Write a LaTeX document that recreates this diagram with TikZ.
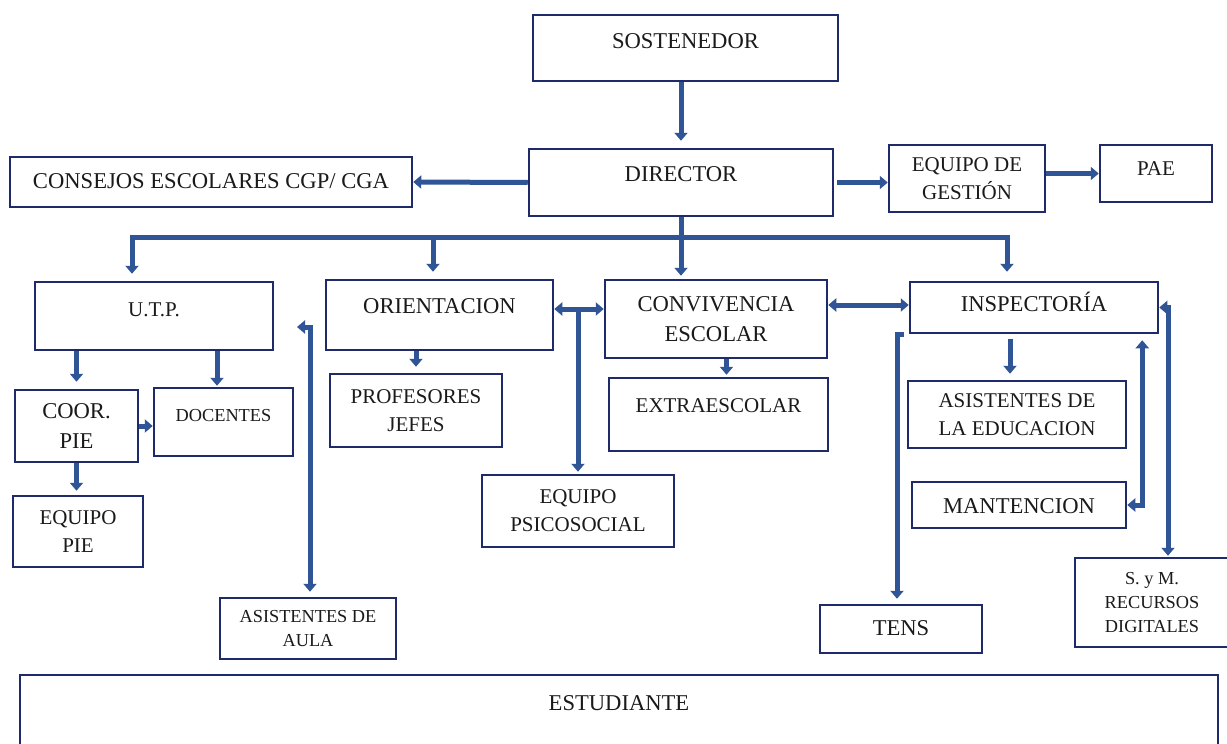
\documentclass[tikz,border=0pt]{standalone}
\usepackage{fontspec}
\setmainfont{Liberation Serif}
\usetikzlibrary{arrows.meta, positioning, calc}

\definecolor{boxline}{HTML}{1F2A6B}
\definecolor{arrowblue}{HTML}{2F5597}
\definecolor{ink}{HTML}{1A1A1A}

\newcommand{\bigtxt}{\fontsize{22.6}{30}\selectfont}
\newcommand{\medtxt}{\fontsize{21}{28}\selectfont}
\newcommand{\smltxt}{\fontsize{18.3}{24}\selectfont}

\begin{document}
\begin{tikzpicture}[x=1pt, y=-1pt,
  plain/.style={draw=arrowblue, line width=5pt},
  normal/.style={plain, -{Triangle[width=13pt,length=8pt]}},
  twoway/.style={plain, {Triangle[width=13pt,length=8pt]}-{Triangle[width=13pt,length=8pt]}},
  box/.style={
    draw=boxline,
    line width=2.5pt,
    rectangle,
    inner xsep=2pt,
    inner ysep=0pt,
    text=ink,
    font=\bigtxt
  },
  mbox/.style={box, align=center}
]

  \fill[white] (0,0) rectangle (1227,744);
  \useasboundingbox (0,0) rectangle (1227,744);

  % top of the chart
  \node[box, minimum width=305pt, minimum height=66pt, text height=33pt, text depth=33pt] (sost) at (685.5,48) {SOSTENEDOR};
  \node[box, minimum width=304pt, minimum height=67pt, text height=32pt, text depth=35pt] (dir) at (681,182.5) {DIRECTOR};
  \node[box, minimum width=402pt, minimum height=50pt, text height=31pt, text depth=19pt] (cons) at (211,182) {CONSEJOS ESCOLARES CGP/ CGA};
  \node[mbox, font=\medtxt, minimum width=156pt, minimum height=67pt] (gest) at (967,178.5) {EQUIPO DE\\GESTIÓN};
  \node[box, font=\medtxt, minimum width=112pt, minimum height=57pt, text height=30pt, text depth=27pt] (pae) at (1156,173.5) {PAE};

  % second row
  \node[box, font=\medtxt, minimum width=238pt, minimum height=68pt, text height=34pt, text depth=34pt] (utp) at (154,316) {U.T.P.};
  \node[box, minimum width=227pt, minimum height=70pt, text height=33pt, text depth=37pt] (orient) at (439.5,315) {ORIENTACION};
  \node[mbox, minimum width=222pt, minimum height=78pt] (conv) at (716,319) {CONVIVENCIA\\ESCOLAR};
  \node[box, minimum width=248pt, minimum height=51pt, text height=29pt, text depth=22pt] (insp) at (1034,307.5) {INSPECTORÍA};

  % lower boxes
  \node[mbox, minimum width=123pt, minimum height=72pt] (coor) at (76.5,426) {COOR.\\PIE};
  \node[box, font=\smltxt, minimum width=139pt, minimum height=68pt, text height=33pt, text depth=35pt] (doc) at (223.5,422) {DOCENTES};
  \node[mbox, font=\medtxt, minimum width=130pt, minimum height=71pt] (eqpie) at (78,531.5) {EQUIPO\\PIE};
  \node[mbox, font=\medtxt, minimum width=172pt, minimum height=73pt] (prof) at (416,410.5) {PROFESORES\\JEFES};
  \node[box, font=\medtxt, minimum width=219pt, minimum height=73pt, text height=34pt, text depth=39pt] (extra) at (718.5,414.5) {EXTRAESCOLAR};
  \node[mbox, font=\medtxt, minimum width=192pt, minimum height=72pt] (psico) at (578,511) {EQUIPO\\PSICOSOCIAL};
  \node[mbox, font=\medtxt, minimum width=218pt, minimum height=67pt] (aedu) at (1017,414.5) {ASISTENTES DE\\LA EDUCACION};
  \node[box, minimum width=214pt, minimum height=46pt, text height=31pt, text depth=15pt] (mant) at (1019,505) {MANTENCION};
  \node[mbox, font=\smltxt, minimum width=176pt, minimum height=61pt] (aula) at (308,628.5) {ASISTENTES DE\\AULA};
  \node[box, minimum width=162pt, minimum height=48pt, text height=30pt, text depth=18pt] (tens) at (901,629) {TENS};
  \node[mbox, font=\smltxt, minimum width=154pt, minimum height=89pt] (sym) at (1152,602.5) {S. y M.\\RECURSOS\\DIGITALES};
  \node[box, minimum width=1198pt, minimum height=85pt, text height=35pt, text depth=50pt] (estud) at (619,717.5) {ESTUDIANTE};

  % director links
  \draw[normal, shorten >=7pt] (dir.north |- sost.south) -- (dir.north);
  \draw[normal] (dir.west) -- (cons.east);
  \draw[normal] ([xshift=3pt]dir.east) -- (dir.east -| gest.west);
  \draw[normal] (gest.east |- pae.west) -- (pae.west);

  \coordinate (b1) at (132,237);
  \coordinate (b2) at (433,237);
  \coordinate (b3) at (1007,237);
  \draw[plain, line cap=rect] (b1) -- (b3);
  \draw[normal, shorten >=3pt] (dir.south) -- (dir.south |- conv.north);
  \draw[normal, shorten >=7pt] (b1) -- (b1 |- utp.north);
  \draw[normal, shorten >=7pt] (b2) -- (b2 |- orient.north);
  \draw[normal, shorten >=9pt] (b3) -- (b3 |- insp.north);

  % second row side links
  \coordinate (oc) at (578,309);
  \draw[twoway] (orient.east |- oc) -- (conv.west |- oc);
  \draw[normal, shorten >=2pt] (oc) -- (oc |- psico.north);
  \coordinate (ci) at (870,305);
  \draw[twoway] (conv.east |- ci) -- (insp.west |- ci);

  % U.T.P. branch
  \draw[normal, shorten >=7pt] (coor.north |- utp.south) -- (coor.north);
  \draw[normal, shorten >=1pt] ([xshift=-6.5pt]doc.north |- utp.south) -- ([xshift=-6.5pt]doc.north);
  \draw[normal] (coor.east) -- (coor.east -| doc.west);
  \draw[normal, shorten >=4pt] (coor.south) -- (coor.south |- eqpie.north);
  \coordinate (au) at (297,327);
  \draw[twoway, shorten >=5pt] (au) -| ([xshift=2pt]aula.north);

  % orientacion and convivencia
  \draw[normal, shorten >=6pt] (prof.north |- orient.south) -- (prof.north);
  \draw[normal, shorten >=2pt] ([xshift=8pt]extra.north |- conv.south) -- ([xshift=8pt]extra.north);

  % inspectoria branch
  \draw[normal, shorten <=5pt, shorten >=6pt] ([xshift=-7pt]aedu.north |- insp.south) -- ([xshift=-7pt]aedu.north);
  \draw[twoway, shorten >=6pt] (mant.east) -| ([xshift=-17pt]insp.south east);
  \draw[twoway, shorten >=1pt] (insp.east) -| ([xshift=16pt]sym.north);
  \draw[normal, shorten >=5pt] ([xshift=-5pt]insp.south west) -| ([xshift=-4pt]tens.north);

\end{tikzpicture}
\end{document}
